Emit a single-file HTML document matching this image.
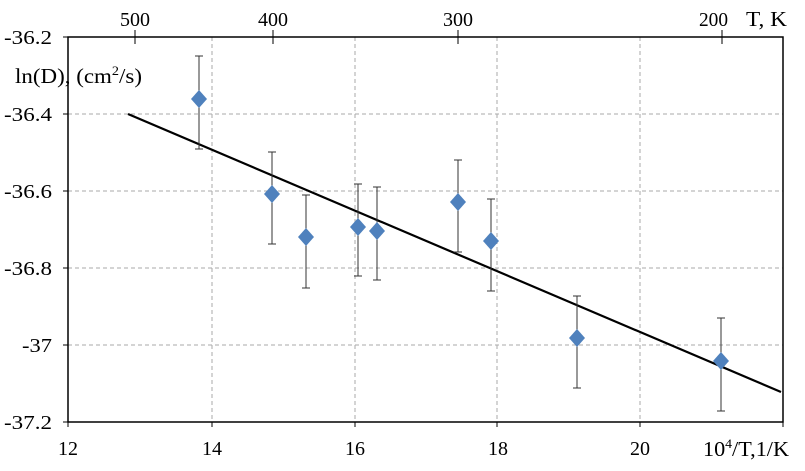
<!DOCTYPE html>
<html><head><meta charset="utf-8"><style>
html,body{margin:0;padding:0;background:#fff}
svg text{font-family:"Liberation Serif",serif;fill:#000}
</style></head><body>
<svg width="805" height="466" viewBox="0 0 805 466" xmlns="http://www.w3.org/2000/svg">
<g stroke="#aaa" stroke-width="1" stroke-dasharray="4,3">
<line x1="212" y1="37" x2="212" y2="422"/><line x1="355" y1="37" x2="355" y2="422"/>
<line x1="497" y1="37" x2="497" y2="422"/><line x1="640" y1="37" x2="640" y2="422"/>
<line x1="68" y1="114" x2="783" y2="114"/><line x1="68" y1="191" x2="783" y2="191"/>
<line x1="68" y1="268" x2="783" y2="268"/><line x1="68" y1="345" x2="783" y2="345"/>
</g>
<rect x="68" y="37" width="715" height="385" fill="none" stroke="#000" stroke-width="1.5"/>
<g stroke="#000" stroke-width="1">
<line x1="63" y1="37" x2="68" y2="37"/><line x1="63" y1="114" x2="68" y2="114"/><line x1="63" y1="191" x2="68" y2="191"/><line x1="63" y1="268" x2="68" y2="268"/><line x1="63" y1="345" x2="68" y2="345"/><line x1="63" y1="422" x2="68" y2="422"/>
<line x1="68" y1="422" x2="68" y2="427"/><line x1="212" y1="422" x2="212" y2="427"/><line x1="355" y1="422" x2="355" y2="427"/><line x1="497" y1="422" x2="497" y2="427"/><line x1="640" y1="422" x2="640" y2="427"/><line x1="783" y1="422" x2="783" y2="427"/>
<line x1="135" y1="30" x2="135" y2="44"/><line x1="273" y1="30" x2="273" y2="44"/><line x1="458" y1="30" x2="458" y2="44"/><line x1="722" y1="30" x2="722" y2="44"/>
</g>
<g font-size="20">
<text x="4" y="44" textLength="48" lengthAdjust="spacingAndGlyphs">-36.2</text>
<text x="4" y="121" textLength="48" lengthAdjust="spacingAndGlyphs">-36.4</text>
<text x="4" y="198" textLength="48" lengthAdjust="spacingAndGlyphs">-36.6</text>
<text x="4" y="275" textLength="48" lengthAdjust="spacingAndGlyphs">-36.8</text>
<text x="22" y="352" textLength="30" lengthAdjust="spacingAndGlyphs">-37</text>
<text x="4" y="429" textLength="48" lengthAdjust="spacingAndGlyphs">-37.2</text>
</g>
<g font-size="20">
<text x="58" y="455" textLength="20" lengthAdjust="spacingAndGlyphs">12</text>
<text x="202" y="455" textLength="20" lengthAdjust="spacingAndGlyphs">14</text>
<text x="345" y="455" textLength="20" lengthAdjust="spacingAndGlyphs">16</text>
<text x="488" y="455" textLength="20" lengthAdjust="spacingAndGlyphs">18</text>
<text x="630" y="455" textLength="20" lengthAdjust="spacingAndGlyphs">20</text>
<text x="120" y="26" textLength="30" lengthAdjust="spacingAndGlyphs">500</text>
<text x="258" y="26" textLength="30" lengthAdjust="spacingAndGlyphs">400</text>
<text x="443" y="26" textLength="30" lengthAdjust="spacingAndGlyphs">300</text>
<text x="699" y="26" textLength="29" lengthAdjust="spacingAndGlyphs">200</text>
</g>
<text x="703" y="456" font-size="21" textLength="86" lengthAdjust="spacingAndGlyphs">10<tspan font-size="13" dy="-8">4</tspan><tspan dy="8">/T,1/K</tspan></text>
<text x="746" y="26" font-size="21" textLength="41" lengthAdjust="spacingAndGlyphs">T, K</text>
<text x="15" y="83" font-size="21" textLength="127" lengthAdjust="spacingAndGlyphs">ln(D), (cm<tspan font-size="13" dy="-8">2</tspan><tspan dy="8">/s)</tspan></text>
<line x1="128" y1="114" x2="781" y2="392" stroke="#000" stroke-width="2.2"/>
<g stroke="#333" stroke-width="1">
<path d="M199 56V149M195 56H203M195 149H203"/>
<path d="M272 152V244M268 152H276M268 244H276"/>
<path d="M306 195V288M302 195H310M302 288H310"/>
<path d="M358 184V276M354 184H362M354 276H362"/>
<path d="M377 187V280M373 187H381M373 280H381"/>
<path d="M458 160V252M454 160H462M454 252H462"/>
<path d="M491 199V291M487 199H495M487 291H495"/>
<path d="M577 296V388M573 296H581M573 388H581"/>
<path d="M721 318V411M717 318H725M717 411H725"/>
</g>
<g fill="#4f81bd">
<path d="M199 90l8 9-8 9-8-9z"/>
<path d="M272 185l8 9-8 9-8-9z"/>
<path d="M306 228l8 9-8 9-8-9z"/>
<path d="M358 218l8 9-8 9-8-9z"/>
<path d="M377 222l8 9-8 9-8-9z"/>
<path d="M458 193l8 9-8 9-8-9z"/>
<path d="M491 232l8 9-8 9-8-9z"/>
<path d="M577 329l8 9-8 9-8-9z"/>
<path d="M721 352l8 9-8 9-8-9z"/>
</g>
</svg>
</body></html>
